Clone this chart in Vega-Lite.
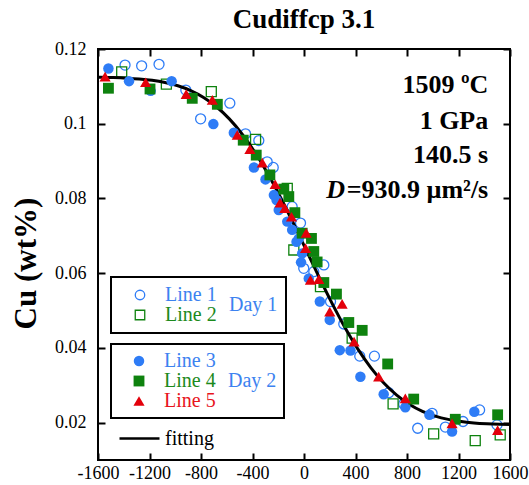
{
  "$schema": "https://vega.github.io/schema/vega-lite/v6.json",
  "width": 412,
  "height": 411,
  "autosize": {"type": "none"},
  "padding": {"left": 98, "top": 49, "right": 19, "bottom": 25},
  "background": "white",
  "config": {
    "font": "Liberation Serif",
    "view": {"stroke": "black", "strokeWidth": 2},
    "axis": {"labelFont": "Liberation Serif", "labelFontSize": 18, "labelColor": "black", "tickColor": "black", "tickWidth": 2, "tickSize": 7, "domain": false, "grid": false, "titleFont": "Liberation Serif", "titleColor": "black", "labelOverlap": false, "labelFlush": false},
    "legend": {"strokeWidth": 2, "labelFont": "Liberation Serif", "titleFont": "Liberation Serif", "labelFontSize": 20, "titleFontSize": 20}
  },
  "title": {"text": "Cudiffcp 3.1", "font": "Liberation Serif", "fontSize": 27, "fontWeight": "bold", "color": "black", "anchor": "middle", "offset": 6},
  "datasets": {
    "pts": [
      {"series": "Line 1", "day": 1, "x": -1390, "cu": 0.1157},
      {"series": "Line 1", "day": 1, "x": -1261, "cu": 0.1155},
      {"series": "Line 1", "day": 1, "x": -1126, "cu": 0.1159},
      {"series": "Line 1", "day": 1, "x": -918, "cu": 0.109},
      {"series": "Line 1", "day": 1, "x": -803, "cu": 0.1013},
      {"series": "Line 1", "day": 1, "x": -576, "cu": 0.1055},
      {"series": "Line 1", "day": 1, "x": -454, "cu": 0.0973},
      {"series": "Line 1", "day": 1, "x": -351, "cu": 0.0955},
      {"series": "Line 1", "day": 1, "x": -286, "cu": 0.0898},
      {"series": "Line 1", "day": 1, "x": -239, "cu": 0.0883},
      {"series": "Line 1", "day": 1, "x": -92, "cu": 0.0778},
      {"series": "Line 1", "day": 1, "x": -27, "cu": 0.0734},
      {"series": "Line 1", "day": 1, "x": -2, "cu": 0.0613},
      {"series": "Line 1", "day": 1, "x": 76, "cu": 0.0604},
      {"series": "Line 1", "day": 1, "x": 154, "cu": 0.0622},
      {"series": "Line 1", "day": 1, "x": 206, "cu": 0.0524},
      {"series": "Line 1", "day": 1, "x": 309, "cu": 0.0464},
      {"series": "Line 1", "day": 1, "x": 433, "cu": 0.0378},
      {"series": "Line 1", "day": 1, "x": 547, "cu": 0.0378},
      {"series": "Line 1", "day": 1, "x": 658, "cu": 0.028},
      {"series": "Line 1", "day": 1, "x": 774, "cu": 0.025},
      {"series": "Line 1", "day": 1, "x": 883, "cu": 0.0185},
      {"series": "Line 1", "day": 1, "x": 995, "cu": 0.0225},
      {"series": "Line 1", "day": 1, "x": 1098, "cu": 0.0188},
      {"series": "Line 1", "day": 1, "x": 1235, "cu": 0.0203},
      {"series": "Line 1", "day": 1, "x": 1364, "cu": 0.0234},
      {"series": "Line 1", "day": 1, "x": 1499, "cu": 0.0194},
      {"series": "Line 2", "day": 1, "x": -1416, "cu": 0.1139},
      {"series": "Line 2", "day": 1, "x": -1069, "cu": 0.1106},
      {"series": "Line 2", "day": 1, "x": -720, "cu": 0.1086},
      {"series": "Line 2", "day": 1, "x": -376, "cu": 0.0958},
      {"series": "Line 2", "day": 1, "x": -130, "cu": 0.0827},
      {"series": "Line 2", "day": 1, "x": -79, "cu": 0.0662},
      {"series": "Line 2", "day": 1, "x": 128, "cu": 0.0564},
      {"series": "Line 2", "day": 1, "x": 374, "cu": 0.0426},
      {"series": "Line 2", "day": 1, "x": 692, "cu": 0.025},
      {"series": "Line 2", "day": 1, "x": 1007, "cu": 0.017},
      {"series": "Line 2", "day": 1, "x": 1330, "cu": 0.0152},
      {"series": "Line 2", "day": 1, "x": 1524, "cu": 0.0167},
      {"series": "Line 3", "day": 2, "x": -1519, "cu": 0.1148},
      {"series": "Line 3", "day": 2, "x": -1359, "cu": 0.1114},
      {"series": "Line 3", "day": 2, "x": -1191, "cu": 0.1088},
      {"series": "Line 3", "day": 2, "x": -1028, "cu": 0.1114},
      {"series": "Line 3", "day": 2, "x": -704, "cu": 0.0999},
      {"series": "Line 3", "day": 2, "x": -545, "cu": 0.0976},
      {"series": "Line 3", "day": 2, "x": -389, "cu": 0.0883},
      {"series": "Line 3", "day": 2, "x": -299, "cu": 0.0851},
      {"series": "Line 3", "day": 2, "x": -234, "cu": 0.0809},
      {"series": "Line 3", "day": 2, "x": -213, "cu": 0.0796},
      {"series": "Line 3", "day": 2, "x": -196, "cu": 0.0769},
      {"series": "Line 3", "day": 2, "x": -130, "cu": 0.0738},
      {"series": "Line 3", "day": 2, "x": -92, "cu": 0.0716},
      {"series": "Line 3", "day": 2, "x": -58, "cu": 0.0684},
      {"series": "Line 3", "day": 2, "x": -40, "cu": 0.0693},
      {"series": "Line 3", "day": 2, "x": -14, "cu": 0.0653},
      {"series": "Line 3", "day": 2, "x": -23, "cu": 0.0629},
      {"series": "Line 3", "day": 2, "x": 37, "cu": 0.0586},
      {"series": "Line 3", "day": 2, "x": 123, "cu": 0.0524},
      {"series": "Line 3", "day": 2, "x": 200, "cu": 0.0475},
      {"series": "Line 3", "day": 2, "x": 278, "cu": 0.0394},
      {"series": "Line 3", "day": 2, "x": 361, "cu": 0.0393},
      {"series": "Line 3", "day": 2, "x": 438, "cu": 0.0323},
      {"series": "Line 3", "day": 2, "x": 619, "cu": 0.0276},
      {"series": "Line 3", "day": 2, "x": 787, "cu": 0.0241},
      {"series": "Line 3", "day": 2, "x": 974, "cu": 0.0221},
      {"series": "Line 3", "day": 2, "x": 1150, "cu": 0.0176},
      {"series": "Line 3", "day": 2, "x": 1323, "cu": 0.0229},
      {"series": "Line 4", "day": 2, "x": -1519, "cu": 0.1095},
      {"series": "Line 4", "day": 2, "x": -1196, "cu": 0.1093},
      {"series": "Line 4", "day": 2, "x": -868, "cu": 0.1068},
      {"series": "Line 4", "day": 2, "x": -673, "cu": 0.1052},
      {"series": "Line 4", "day": 2, "x": -472, "cu": 0.0956},
      {"series": "Line 4", "day": 2, "x": -371, "cu": 0.0916},
      {"series": "Line 4", "day": 2, "x": -265, "cu": 0.0863},
      {"series": "Line 4", "day": 2, "x": -157, "cu": 0.0825},
      {"series": "Line 4", "day": 2, "x": -118, "cu": 0.0805},
      {"series": "Line 4", "day": 2, "x": -71, "cu": 0.0762},
      {"series": "Line 4", "day": 2, "x": -14, "cu": 0.0707},
      {"series": "Line 4", "day": 2, "x": 58, "cu": 0.0693},
      {"series": "Line 4", "day": 2, "x": 76, "cu": 0.0658},
      {"series": "Line 4", "day": 2, "x": 102, "cu": 0.063},
      {"series": "Line 4", "day": 2, "x": 154, "cu": 0.0575},
      {"series": "Line 4", "day": 2, "x": 252, "cu": 0.0544},
      {"series": "Line 4", "day": 2, "x": 348, "cu": 0.0468},
      {"series": "Line 4", "day": 2, "x": 452, "cu": 0.0447},
      {"series": "Line 4", "day": 2, "x": 650, "cu": 0.0357},
      {"series": "Line 4", "day": 2, "x": 852, "cu": 0.0263},
      {"series": "Line 4", "day": 2, "x": 1175, "cu": 0.0209},
      {"series": "Line 4", "day": 2, "x": 1504, "cu": 0.0221},
      {"series": "Line 5", "day": 2, "x": -1545, "cu": 0.1126},
      {"series": "Line 5", "day": 2, "x": -1230, "cu": 0.1111},
      {"series": "Line 5", "day": 2, "x": -915, "cu": 0.1079},
      {"series": "Line 5", "day": 2, "x": -712, "cu": 0.1064},
      {"series": "Line 5", "day": 2, "x": -518, "cu": 0.097},
      {"series": "Line 5", "day": 2, "x": -420, "cu": 0.0932},
      {"series": "Line 5", "day": 2, "x": -324, "cu": 0.0896},
      {"series": "Line 5", "day": 2, "x": -224, "cu": 0.0838},
      {"series": "Line 5", "day": 2, "x": -186, "cu": 0.0789},
      {"series": "Line 5", "day": 2, "x": -149, "cu": 0.0774},
      {"series": "Line 5", "day": 2, "x": -97, "cu": 0.0751},
      {"series": "Line 5", "day": 2, "x": 17, "cu": 0.0708},
      {"series": "Line 5", "day": 2, "x": 12, "cu": 0.0667},
      {"series": "Line 5", "day": 2, "x": 50, "cu": 0.0582},
      {"series": "Line 5", "day": 2, "x": 115, "cu": 0.0584},
      {"series": "Line 5", "day": 2, "x": 200, "cu": 0.0497},
      {"series": "Line 5", "day": 2, "x": 296, "cu": 0.0518},
      {"series": "Line 5", "day": 2, "x": 389, "cu": 0.0417},
      {"series": "Line 5", "day": 2, "x": 580, "cu": 0.0323},
      {"series": "Line 5", "day": 2, "x": 787, "cu": 0.0265},
      {"series": "Line 5", "day": 2, "x": 1150, "cu": 0.0198},
      {"series": "Line 5", "day": 2, "x": 1504, "cu": 0.018}
    ],
    "fit": [
      {"x": -1600, "cu": 0.11245},
      {"x": -1580, "cu": 0.11242},
      {"x": -1480, "cu": 0.11234},
      {"x": -1380, "cu": 0.1122},
      {"x": -1280, "cu": 0.11198},
      {"x": -1180, "cu": 0.11162},
      {"x": -1080, "cu": 0.11103},
      {"x": -980, "cu": 0.11015},
      {"x": -880, "cu": 0.10886},
      {"x": -780, "cu": 0.10702},
      {"x": -680, "cu": 0.10454},
      {"x": -580, "cu": 0.1013},
      {"x": -480, "cu": 0.09723},
      {"x": -380, "cu": 0.0923},
      {"x": -280, "cu": 0.08656},
      {"x": -180, "cu": 0.08012},
      {"x": -80, "cu": 0.07317},
      {"x": 20, "cu": 0.06595},
      {"x": 120, "cu": 0.05873},
      {"x": 220, "cu": 0.05178},
      {"x": 320, "cu": 0.04534},
      {"x": 420, "cu": 0.0396},
      {"x": 520, "cu": 0.03467},
      {"x": 620, "cu": 0.0306},
      {"x": 720, "cu": 0.02736},
      {"x": 820, "cu": 0.02488},
      {"x": 920, "cu": 0.02304},
      {"x": 1020, "cu": 0.02175},
      {"x": 1120, "cu": 0.02087},
      {"x": 1220, "cu": 0.02028},
      {"x": 1320, "cu": 0.01992},
      {"x": 1420, "cu": 0.0197},
      {"x": 1520, "cu": 0.01956},
      {"x": 1600, "cu": 0.01949}
    ]
  },
  "resolve": {"scale": {"color": "independent", "shape": "independent", "size": "independent"}, "axis": {"x": "independent", "y": "independent"}},
  "layer": [
    {
      "data": {"name": "pts"},
      "transform": [{"filter": "datum.day == 1"}],
      "mark": {"type": "point", "filled": false, "strokeWidth": 1.3, "size": 100, "opacity": 1},
      "encoding": {
        "x": {"field": "x", "type": "quantitative", "scale": {"domain": [-1600, 1600], "nice": false, "zero": false},
          "axis": {"values": [-1600, -1200, -800, -400, 0, 400, 800, 1200, 1600], "labelExpr": "datum.value < 0 ? '-' + abs(datum.value) : '' + datum.value", "title": null, "ticks": false, "labelPadding": 4}},
        "y": {"field": "cu", "type": "quantitative", "scale": {"domain": [0.01, 0.12], "nice": false, "zero": false},
          "axis": {"values": [0.02, 0.04, 0.06, 0.08, 0.1, 0.12], "format": ".2~f", "title": "Cu (wt%)", "titleFontSize": 31, "titleFontWeight": "bold", "titlePadding": 12, "titleY": 214, "ticks": false, "labelPadding": 12}},
        "color": {"field": "series", "type": "nominal", "scale": {"domain": ["Line 1", "Line 2"], "range": ["#2e7cf6", "#0e820e"]},
          "legend": {"title": "Day 1", "orient": "none", "legendX": 13, "legendY": 228, "titleOrient": "right", "titleAnchor": "middle", "titleBaseline": "middle", "titleColor": "#3c82f0", "titleFontWeight": "normal", "titleFont": "Liberation Serif", "labelFont": "Liberation Serif", "titlePadding": 12, "labelOffset": 15, "symbolOffset": 11, "padding": 8, "rowPadding": 0, "strokeColor": "black", "symbolSize": 90, "symbolStrokeWidth": 1.3,
            "labelColor": {"expr": "datum.value == 'Line 2' ? '#1c8a1c' : '#3c82f0'"}}},
        "shape": {"field": "series", "type": "nominal", "scale": {"domain": ["Line 1", "Line 2"], "range": ["circle", "square"]},
          "legend": {"title": "Day 1", "orient": "none", "legendX": 13, "legendY": 228, "titleOrient": "right", "titleAnchor": "middle", "titleBaseline": "middle", "titleColor": "#3c82f0", "titleFontWeight": "normal", "titleFont": "Liberation Serif", "labelFont": "Liberation Serif", "titlePadding": 12, "labelOffset": 15, "symbolOffset": 11, "padding": 8, "rowPadding": 0, "strokeColor": "black", "symbolSize": 90, "symbolStrokeWidth": 1.3,
            "labelColor": {"expr": "datum.value == 'Line 2' ? '#1c8a1c' : '#3c82f0'"}}}
      }
    },
    {
      "data": {"name": "fit"},
      "mark": {"type": "line", "strokeWidth": 3, "interpolate": "monotone"},
      "encoding": {
        "x": {"field": "x", "type": "quantitative", "scale": {"domain": [-1600, 1600], "nice": false, "zero": false}, "axis": null},
        "y": {"field": "cu", "type": "quantitative", "scale": {"domain": [0.01, 0.12], "nice": false, "zero": false}, "axis": null},
        "color": {"datum": "fitting", "type": "nominal", "scale": {"range": ["black"]},
          "legend": {"title": null, "orient": "none", "legendX": 20, "legendY": 368, "padding": 0, "symbolType": "stroke", "symbolSize": 1600, "symbolStrokeWidth": 2.5, "labelOffset": 4, "labelColor": "black", "labelFont": "Liberation Serif"}}
      }
    },
    {
      "data": {"name": "pts"},
      "transform": [{"filter": "datum.day == 2"}],
      "mark": {"type": "point", "filled": true, "opacity": 1},
      "encoding": {
        "x": {"field": "x", "type": "quantitative", "scale": {"domain": [-1600, 1600], "nice": false, "zero": false}, "axis": null},
        "y": {"field": "cu", "type": "quantitative", "scale": {"domain": [0.01, 0.12], "nice": false, "zero": false}, "axis": null},
        "size": {"field": "series", "type": "nominal", "scale": {"domain": ["Line 3", "Line 4", "Line 5"], "range": [110, 125, 190]}, "legend": null},
        "color": {"field": "series", "type": "nominal", "scale": {"domain": ["Line 3", "Line 4", "Line 5"], "range": ["#2e7cf6", "#0e820e", "#e3000b"]},
          "legend": {"title": "Day 2", "orient": "none", "legendX": 13, "legendY": 295, "titleOrient": "right", "titleAnchor": "middle", "titleBaseline": "middle", "titleColor": "#3c82f0", "titleFontWeight": "normal", "titleFont": "Liberation Serif", "labelFont": "Liberation Serif", "titlePadding": 12, "labelOffset": 15, "symbolOffset": 11, "padding": 7, "rowPadding": 0, "strokeColor": "black", "symbolSize": 100,
            "labelColor": {"expr": "datum.value == 'Line 4' ? '#1c8a1c' : datum.value == 'Line 5' ? '#e8141c' : '#3c82f0'"}}},
        "shape": {"field": "series", "type": "nominal", "scale": {"domain": ["Line 3", "Line 4", "Line 5"], "range": ["circle", "square", "triangle-up"]},
          "legend": {"title": "Day 2", "orient": "none", "legendX": 13, "legendY": 295, "titleOrient": "right", "titleAnchor": "middle", "titleBaseline": "middle", "titleColor": "#3c82f0", "titleFontWeight": "normal", "titleFont": "Liberation Serif", "labelFont": "Liberation Serif", "titlePadding": 12, "labelOffset": 15, "symbolOffset": 11, "padding": 7, "rowPadding": 0, "strokeColor": "black", "symbolSize": 100,
            "labelColor": {"expr": "datum.value == 'Line 4' ? '#1c8a1c' : datum.value == 'Line 5' ? '#e8141c' : '#3c82f0'"}}}
      }
    },
    {
      "data": {"values": [{}]},
      "mark": {"type": "text", "align": "right", "baseline": "middle", "font": "Liberation Serif", "fontSize": 26, "fontWeight": "bold", "color": "black", "text": "1509 ºC"},
      "encoding": {
        "x": {"datum": 1431, "type": "quantitative", "scale": {"domain": [-1600, 1600], "nice": false, "zero": false}, "axis": null},
        "y": {"datum": 0.1104, "type": "quantitative", "scale": {"domain": [0.01, 0.12], "nice": false, "zero": false}, "axis": null}
      }
    },
    {
      "data": {"values": [{}]},
      "mark": {"type": "text", "align": "right", "baseline": "middle", "font": "Liberation Serif", "fontSize": 26, "fontWeight": "bold", "color": "black", "text": "1 GPa"},
      "encoding": {
        "x": {"datum": 1431, "type": "quantitative", "scale": {"domain": [-1600, 1600], "nice": false, "zero": false}, "axis": null},
        "y": {"datum": 0.1007, "type": "quantitative", "scale": {"domain": [0.01, 0.12], "nice": false, "zero": false}, "axis": null}
      }
    },
    {
      "data": {"values": [{}]},
      "mark": {"type": "text", "align": "right", "baseline": "middle", "font": "Liberation Serif", "fontSize": 26, "fontWeight": "bold", "color": "black", "text": "140.5 s"},
      "encoding": {
        "x": {"datum": 1431, "type": "quantitative", "scale": {"domain": [-1600, 1600], "nice": false, "zero": false}, "axis": null},
        "y": {"datum": 0.0916, "type": "quantitative", "scale": {"domain": [0.01, 0.12], "nice": false, "zero": false}, "axis": null}
      }
    },
    {
      "data": {"values": [{}]},
      "mark": {"type": "text", "align": "right", "baseline": "middle", "font": "Liberation Serif", "fontSize": 26, "fontWeight": "bold", "color": "black", "text": "=930.9 µm²/s"},
      "encoding": {
        "x": {"datum": 1431, "type": "quantitative", "scale": {"domain": [-1600, 1600], "nice": false, "zero": false}, "axis": null},
        "y": {"datum": 0.0823, "type": "quantitative", "scale": {"domain": [0.01, 0.12], "nice": false, "zero": false}, "axis": null}
      }
    },
    {
      "data": {"values": [{}]},
      "mark": {"type": "text", "align": "right", "baseline": "middle", "font": "Liberation Serif", "fontSize": 26, "fontWeight": "bold", "fontStyle": "italic", "color": "black", "text": "D"},
      "encoding": {
        "x": {"datum": 318, "type": "quantitative", "scale": {"domain": [-1600, 1600], "nice": false, "zero": false}, "axis": null},
        "y": {"datum": 0.0823, "type": "quantitative", "scale": {"domain": [0.01, 0.12], "nice": false, "zero": false}, "axis": null}
      }
    },
    {
      "data": {"values": [{}]},
      "mark": {"type": "point", "opacity": 0},
      "encoding": {
        "x": {"datum": 0, "type": "quantitative", "scale": {"domain": [-1600, 1600], "nice": false, "zero": false},
          "axis": {"orient": "top", "offset": -411, "values": [-1600, -1200, -800, -400, 0, 400, 800, 1200, 1600], "labels": false, "title": null}},
        "y": {"datum": 0.05, "type": "quantitative", "scale": {"domain": [0.01, 0.12], "nice": false, "zero": false},
          "axis": {"orient": "right", "offset": -412, "values": [0.02, 0.04, 0.06, 0.08, 0.1, 0.12], "labels": false, "title": null}}
      }
    },
    {
      "data": {"values": [{}]},
      "mark": {"type": "point", "opacity": 0},
      "encoding": {
        "x": {"datum": 0, "type": "quantitative", "scale": {"domain": [-1600, 1600], "nice": false, "zero": false},
          "axis": {"orient": "bottom", "offset": -411, "values": [-1600, -1200, -800, -400, 0, 400, 800, 1200, 1600], "labels": false, "title": null}},
        "y": {"datum": 0.05, "type": "quantitative", "scale": {"domain": [0.01, 0.12], "nice": false, "zero": false},
          "axis": {"orient": "left", "offset": -412, "values": [0.02, 0.04, 0.06, 0.08, 0.1, 0.12], "labels": false, "title": null}}
      }
    }
  ]
}
